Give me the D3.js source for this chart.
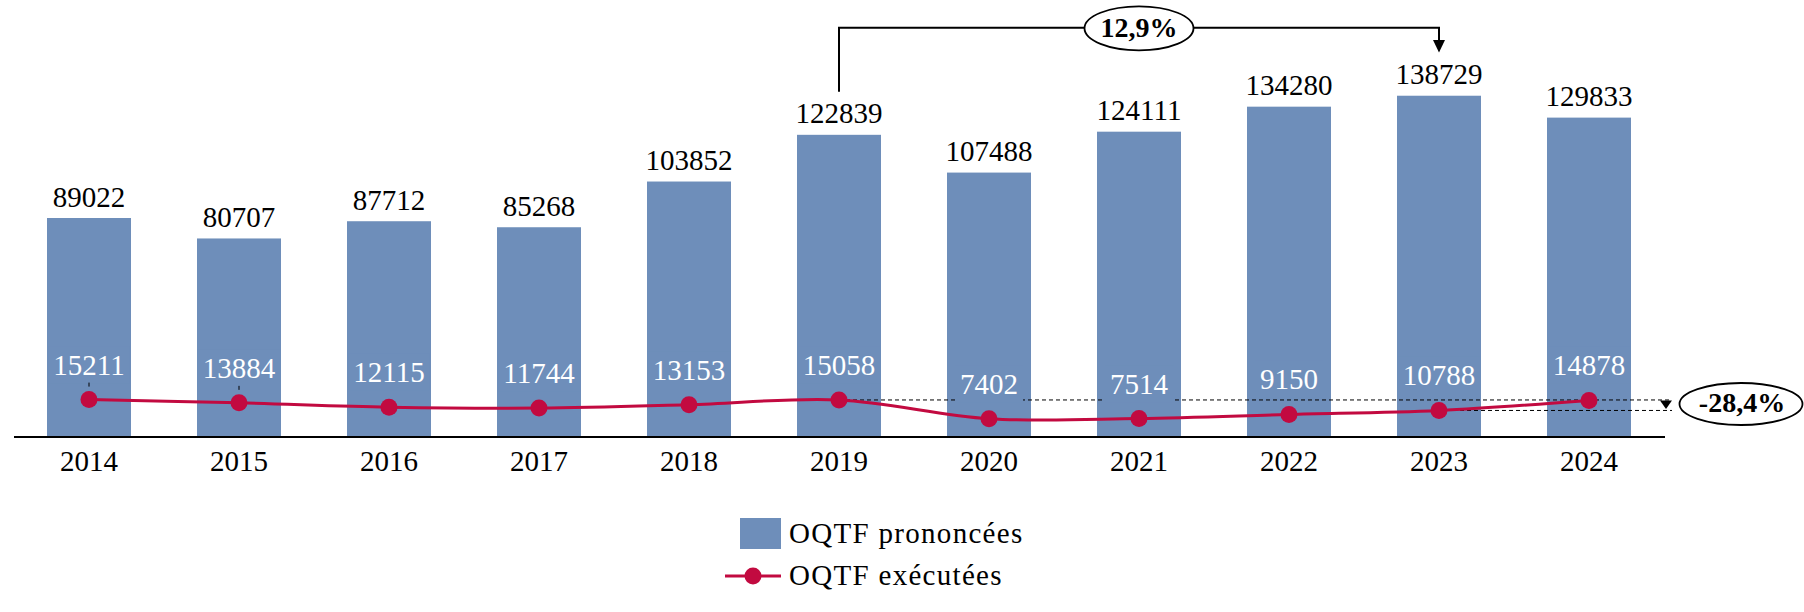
<!DOCTYPE html>
<html>
<head>
<meta charset="utf-8">
<script src="https://cdn.jsdelivr.net/npm/d3@7"></script>
<style>
  html, body { margin: 0; padding: 0; background: #fff; }
</style>
</head>
<body>
<svg id="chart" width="1804" height="612"></svg>
<script>
const years = ["2014","2015","2016","2017","2018","2019","2020","2021","2022","2023","2024"];
const prononcees = [89022, 80707, 87712, 85268, 103852, 122839, 107488, 124111, 134280, 138729, 129833];
const executees = [15211, 13884, 12115, 11744, 13153, 15058, 7402, 7514, 9150, 10788, 14878];
const legendLabels = ["OQTF prononcées", "OQTF exécutées"];
const annotTop = "12,9%";
const annotRight = "-28,4%";
const leaderYears = ["2014", "2015"];

const barColor = "#6E8EBA";
const lineColor = "#C20A40";
const fontSize = 29;
const FONT = "'Liberation Serif', 'Times New Roman', serif";

const svg = d3.select("#chart");

const x = d3.scaleBand().domain(years).range([14, 1664]).paddingInner(0.44).paddingOuter(0.22);
const y = d3.scaleLinear().domain([0, 100000]).range([437, 437 - 246]);
const cx = d => x(d) + x.bandwidth() / 2;

// Bars
svg.append("g").selectAll("rect").data(years).join("rect")
  .attr("x", d => x(d))
  .attr("y", (d, i) => y(prononcees[i]))
  .attr("width", x.bandwidth())
  .attr("height", (d, i) => y(0) - y(prononcees[i]))
  .attr("fill", barColor);

// Bar value labels
svg.append("g").selectAll("text").data(years).join("text")
  .attr("x", d => cx(d))
  .attr("y", (d, i) => y(prononcees[i]) - 11.5)
  .attr("text-anchor", "middle")
  .style("font-family", FONT)
  .style("font-size", fontSize + "px")
  .attr("fill", "#000")
  .text((d, i) => prononcees[i]);

// Dashed reference lines (2019 level and 2023 level)
const i2019 = years.indexOf("2019"), i2023 = years.indexOf("2023");
const dashEnd = x.range()[1] + 8;
svg.append("line")
  .attr("x1", cx("2019")).attr("x2", dashEnd)
  .attr("y1", y(executees[i2019])).attr("y2", y(executees[i2019]))
  .attr("stroke", "#000").attr("stroke-width", 1).attr("stroke-dasharray", "4,3");
svg.append("line")
  .attr("x1", cx("2023")).attr("x2", dashEnd)
  .attr("y1", y(executees[i2023])).attr("y2", y(executees[i2023]))
  .attr("stroke", "#000").attr("stroke-width", 1).attr("stroke-dasharray", "4,3");

// White labels for executees with bar-coloured boxes
const lblG = svg.append("g");
years.forEach((d, i) => {
  const g = lblG.append("g");
  const t = g.append("text")
    .attr("x", cx(d))
    .attr("y", y(executees[i]) - 25)
    .attr("text-anchor", "middle")
    .style("font-family", FONT)
    .style("font-size", fontSize + "px")
    .attr("fill", "#fff")
    .text(executees[i]);
  const bb = t.node().getBBox();
  g.insert("rect", "text")
    .attr("x", bb.x - 5).attr("y", bb.y - 2.5)
    .attr("width", bb.width + 10).attr("height", bb.height + 5)
    .attr("fill", barColor);
});

// Leader ticks
svg.append("g").selectAll("line").data(leaderYears).join("line")
  .attr("x1", d => cx(d)).attr("x2", d => cx(d))
  .attr("y1", d => y(executees[years.indexOf(d)]) - 17)
  .attr("y2", d => y(executees[years.indexOf(d)]) - 13)
  .attr("stroke", "#000").attr("stroke-width", 1);

// Line
const line = d3.line()
  .x((d, i) => cx(years[i]))
  .y(d => y(d))
  .curve(d3.curveCardinal.tension(0));
svg.append("path")
  .datum(executees)
  .attr("d", line)
  .attr("fill", "none")
  .attr("stroke", lineColor)
  .attr("stroke-width", 3);

svg.append("g").selectAll("circle").data(executees).join("circle")
  .attr("cx", (d, i) => cx(years[i]))
  .attr("cy", d => y(d))
  .attr("r", 8.5)
  .attr("fill", lineColor);

// Axis
const axis = d3.axisBottom(x).tickSize(0).tickSizeOuter(0).tickPadding(13.5);
const ax = svg.append("g").attr("transform", `translate(0,${y(0)})`).call(axis);
ax.select(".domain").attr("stroke", "#000").attr("stroke-width", 2)
  .attr("d", `M${x.range()[0]},0H${x.range()[1] + 1}`);
ax.selectAll("text")
  .style("font-family", FONT)
  .style("font-size", fontSize + "px")
  .attr("fill", "#000");

// Top annotation (2019 -> 2023)
const topY = 27.7;
const xa = cx("2019"), xb = cx("2023");
svg.append("path")
  .attr("d", `M${xa},${y(prononcees[i2019]) - 43}V${topY}H${xb}V40`)
  .attr("fill", "none").attr("stroke", "#000").attr("stroke-width", 2);
svg.append("path")
  .attr("d", `M${xb - 6},40L${xb + 6},40L${xb},52.5Z`)
  .attr("fill", "#000");
const midX = (xa + xb) / 2;
svg.append("ellipse")
  .attr("cx", midX).attr("cy", 28.3).attr("rx", 54.5).attr("ry", 22)
  .attr("fill", "#fff").attr("stroke", "#000").attr("stroke-width", 1.8);
svg.append("text")
  .attr("x", midX).attr("y", 37)
  .attr("text-anchor", "middle")
  .style("font-family", FONT).style("font-size", "28px").style("font-weight", "bold")
  .text(annotTop);

// Right annotation (-28,4%)
const triX = dashEnd - 6;
svg.append("path")
  .attr("d", `M${triX - 6},400.5L${triX + 6},400.5L${triX},409Z`)
  .attr("fill", "#000");
svg.append("ellipse")
  .attr("cx", 1741).attr("cy", 404).attr("rx", 61.5).attr("ry", 21)
  .attr("fill", "#fff").attr("stroke", "#000").attr("stroke-width", 1.8);
svg.append("text")
  .attr("x", 1742).attr("y", 412)
  .attr("text-anchor", "middle")
  .style("font-family", FONT).style("font-size", "28px").style("font-weight", "bold")
  .text(annotRight);

// Legend
const lg = svg.append("g");
lg.append("rect").attr("x", 740).attr("y", 518).attr("width", 41).attr("height", 31).attr("fill", barColor);
lg.append("text").attr("x", 789).attr("y", 543)
  .style("font-family", FONT).style("font-size", fontSize + "px").style("letter-spacing", "1.3px")
  .text(legendLabels[0]);
lg.append("line").attr("x1", 725).attr("x2", 781).attr("y1", 576).attr("y2", 576)
  .attr("stroke", lineColor).attr("stroke-width", 3);
lg.append("circle").attr("cx", 753).attr("cy", 576).attr("r", 8.5).attr("fill", lineColor);
lg.append("text").attr("x", 789).attr("y", 585)
  .style("font-family", FONT).style("font-size", fontSize + "px").style("letter-spacing", "1.3px")
  .text(legendLabels[1]);
</script>
</body>
</html>
